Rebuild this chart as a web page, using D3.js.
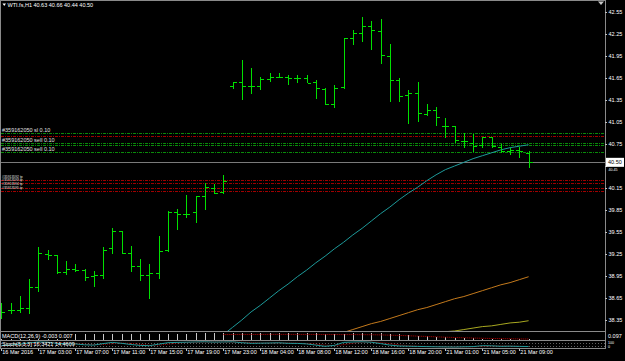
<!DOCTYPE html>
<html>
<head>
<meta charset="utf-8">
<script src="https://cdn.jsdelivr.net/npm/d3@7"></script>
<style>
  html, body { margin: 0; padding: 0; background: #000; overflow: hidden; }
  svg { display: block; }
  text { font-family: "Liberation Sans", Arial, sans-serif; font-size: 5.5px; }
</style>
</head>
<body>
<div id="chart"></div>
<script>
// WTI.fs H1 bars, index 0 = 16 Mar 2016
const opens  = [38.47,38.48,38.48,38.52,38.80,39.25,39.24,39.01,39.05,39.03,38.95,38.96,39.33,39.56,39.26,39.08,38.96,38.99,39.30,39.82,39.80,39.82,40.04,40.15,40.09,
                41.54,41.60,41.54,41.54,41.64,41.67,41.67,41.65,41.65,41.59,41.50,41.30,41.53,42.20,42.26,42.36,42.29,41.95,41.62,41.42,41.44,41.16,41.21,41.00,41.00,40.79,40.77,40.73,40.85,40.71,40.65,40.67,40.63]
const highs  = [38.58,38.58,38.68,38.91,39.34,39.31,39.24,39.15,39.12,39.04,39.02,39.34,39.61,39.56,39.36,39.18,39.11,39.50,39.84,39.86,40.05,40.04,40.22,40.20,40.33,
                41.60,41.90,41.78,41.66,41.72,41.72,41.69,41.69,41.69,41.62,41.52,41.55,42.20,42.30,42.48,42.43,42.46,42.12,41.65,41.49,41.60,41.30,41.25,41.11,41.00,40.90,40.89,40.85,40.85,40.75,40.70,40.71,40.66]
const lows   = [38.38,38.44,38.46,38.44,38.74,39.18,38.99,38.98,39.02,38.89,38.81,38.92,39.26,39.27,39.02,38.90,38.65,38.92,39.29,39.59,39.76,39.69,39.86,40.08,40.08,
                41.52,41.36,41.45,41.50,41.61,41.67,41.57,41.60,41.59,41.38,41.29,41.25,41.52,42.11,42.16,42.04,41.86,41.34,41.33,41.04,41.06,41.14,41.01,40.85,40.78,40.71,40.65,40.71,40.71,40.64,40.62,40.57,40.44]
const closes = [38.46,38.49,38.51,38.80,39.26,39.24,39.01,39.05,39.03,38.93,38.96,39.31,39.57,39.27,39.08,38.96,38.99,39.29,39.82,39.80,39.80,40.04,40.16,40.08,40.25,
                41.60,41.54,41.54,41.63,41.66,41.67,41.65,41.65,41.58,41.51,41.29,41.52,42.20,42.26,42.36,42.30,41.96,41.62,41.40,41.45,41.17,41.22,41.12,41.00,40.80,40.79,40.72,40.84,40.72,40.65,40.67,40.65,40.50]

// moving averages (start bar index, values)
const cyanStart = 24
const cyanMA = [38.15,38.25,38.35,38.46,38.55,38.65,38.75,38.84,38.94,39.03,39.13,39.22,39.32,39.41,39.51,39.60,39.70,39.80,39.89,39.99,
                40.08,40.16,40.25,40.33,40.40,40.45,40.50,40.55,40.59,40.63,40.67,40.70,40.72,40.74]
const orangeStart = 36
const orangeMA = [38.15,38.18,38.22,38.26,38.30,38.33,38.37,38.41,38.45,38.49,38.52,38.56,38.60,38.64,38.67,38.71,38.75,38.79,38.83,38.86,38.90,38.94]
const yellowStart = 47
const yellowMA = [38.17,38.19,38.20,38.22,38.24,38.26,38.27,38.29,38.31,38.32,38.34]

// MACD(12,26,9)
const macdHist = [0.004,0.004,0.005,0.005,0.006,0.006,0.007,0.008,0.07,0.072,0.072,0.075,0.078,0.078,0.076,0.074,0.072,0.074,0.078,0.08,
                  0.082,0.084,0.085,0.085,0.086,0.088,0.09,0.09,0.09,0.09,0.089,0.088,0.087,0.086,0.084,0.08,0.078,0.082,0.086,0.088,
                  0.088,0.085,0.078,0.07,0.062,0.055,0.048,0.04,0.032,0.026,0.02,0.015,0.012,0.01,0.008,0.006,0.005,0.004]
const macdSignalStart = 24
const macdSignal = [0.068,0.069,0.07,0.07,0.07,0.071,0.071,0.071,0.07,0.07,0.07,0.069,0.069,0.068,0.068,0.067,0.066,0.064,0.06,0.056,
                    0.052,0.047,0.042,0.037,0.032,0.028,0.024,0.02,0.017,0.014,0.012,0.01,0.008,0.007]

// Stoch(5,3,3)
const stochMain = [30,40,55,75,92,88,70,62,60,45,40,65,85,70,50,35,30,55,80,85,88,92,95,90,92,95,80,70,72,75,
                   78,70,68,60,40,20,35,85,92,95,88,65,40,25,22,18,15,12,10,8,12,15,30,28,20,22,18,16.34]
const stochSignal = [25,32,42,57,74,85,83,73,64,56,48,50,63,73,68,52,38,40,55,73,84,88,92,92,92,92,89,82,74,72,
                     75,74,72,66,56,40,32,47,71,91,92,83,64,43,29,22,18,15,12,10,10,12,19,24,26,23,20,14.46]

const priceTicks = [38.35,38.65,38.95,39.25,39.55,39.85,40.15,40.45,40.75,41.05,41.35,41.65,41.95,42.25,42.55]
const timeIdx = [0,4,8,12,16,20,24,28,32,36,40,44,48,52,56]
const timeLabels = ['16 Mar 2016','17 Mar 03:00','17 Mar 07:00','17 Mar 11:00','17 Mar 15:00','17 Mar 19:00','17 Mar 23:00',
                    '18 Mar 04:00','18 Mar 08:00','18 Mar 12:00','18 Mar 16:00','18 Mar 20:00','21 Mar 01:00','21 Mar 05:00','21 Mar 09:00']

// trade lines
const orderPrices = [40.90,40.86,40.76,40.74,40.64,40.26,40.22,40.15,40.11]
const orderKinds  = ['open','stop','open','open','open','stop','stop','stop','stop']
const orderLabels = ['#359162050 sl 0.10','','#359162050 sell 0.10','','#359162050 sell 0.10',
                     '#35913592 tp','#35913593 tp','#35913594 tp','#35913595 tp']

const bid = 40.50
const title = 'WTI.fs,H1  40.63 40.66 40.44 40.50'

const width = 625
const height = 361
const right = 605

const svg = d3.select('#chart').append('svg').attr('width', width).attr('height', height).attr('fill', '#fff')
svg.append('rect').attr('width', width).attr('height', height).attr('fill', '#000')

const defs = svg.append('defs')
defs.append('clipPath').attr('id', 'main').append('rect').attr('x', 1).attr('y', 1).attr('width', right - 1).attr('height', 330)
defs.append('clipPath').attr('id', 'macd').append('rect').attr('x', 1).attr('y', 332).attr('width', right - 1).attr('height', 8)
defs.append('clipPath').attr('id', 'stoch').append('rect').attr('x', 1).attr('y', 341).attr('width', right - 1).attr('height', 7)

const x = d3.scaleLinear().domain([0, 57]).range([1.3, 528.6])
const y = d3.scaleLinear().domain([38.35, 42.55]).range([320, 12])
const px = i => Math.round(x(i)) + 0.5
const py = v => Math.round(y(v)) + 0.5

const main = svg.append('g').attr('clip-path', 'url(#main)')

// order / stop lines
const kindColor = { open: '#0a8a0a', stop: '#a00000' }
main.append('g').selectAll('line').data(orderPrices).join('line')
  .attr('x1', 1).attr('x2', right)
  .attr('y1', d => py(d)).attr('y2', d => py(d))
  .attr('stroke', (d, i) => kindColor[orderKinds[i]])
  .attr('stroke-width', 1)
  .attr('stroke-dasharray', '3,1,1,1')
  .attr('shape-rendering', 'crispEdges')

// labels sit just above their line; the tp ones are stacked under the first tp line
const labelData = orderPrices.map((p, i) => ({ p, label: orderLabels[i], kind: orderKinds[i] })).filter(d => d.label)
const firstStop = labelData.find(d => d.kind === 'stop').p
let k = 0
labelData.forEach(d => { d.ly = d.kind === 'stop' ? y(firstStop) - 3.4 + 3.6 * (k++) : y(d.p) - 3 })
main.append('g').selectAll('text').data(labelData).join('text')
  .attr('x', 2).attr('y', d => d.ly)
  .attr('dy', '0.35em')
  .attr('fill', '#e0e0e0')
  .style('font-size', d => d.kind === 'stop' ? '3.4px' : '5.5px')
  .text(d => d.label)

// bid line
main.append('line').attr('x1', 1).attr('x2', right).attr('y1', py(bid)).attr('y2', py(bid))
  .attr('stroke', '#7a7a7a').attr('shape-rendering', 'crispEdges')

// moving averages
function maLine(vals, start, color) {
  main.append('path')
    .datum(vals)
    .attr('fill', 'none')
    .attr('stroke', color)
    .attr('stroke-width', 1)
    .attr('d', d3.line().x((d, i) => x(start + i)).y(d => y(d)))
}
maLine(cyanMA, cyanStart, '#1d9a9a')
maLine(orangeMA, orangeStart, '#c47a1c')
maLine(yellowMA, yellowStart, '#a8a820')

// OHLC bars
main.append('g').selectAll('path').data(opens).join('path')
  .attr('fill', 'none')
  .attr('stroke', '#00e000')
  .attr('stroke-width', 1)
  .attr('shape-rendering', 'crispEdges')
  .attr('d', (o, i) => {
    const cx = px(i)
    return `M${cx},${py(highs[i]) - 0.5}V${py(lows[i]) + 0.5}` +
      `M${cx - 3.5},${py(o)}H${cx}` +
      `M${cx},${py(closes[i])}H${cx + 3.5}`
  })

// MACD panel
const ym = d3.scaleLinear().domain([0, 0.097]).range([339.5, 332.5])
const macd = svg.append('g').attr('clip-path', 'url(#macd)')
macd.append('g').selectAll('line').data(macdHist).join('line')
  .attr('x1', (d, i) => px(i)).attr('x2', (d, i) => px(i))
  .attr('y1', ym(0)).attr('y2', d => ym(d))
  .attr('stroke', '#c8c8c8').attr('shape-rendering', 'crispEdges')
macd.append('path').datum(macdSignal)
  .attr('fill', 'none').attr('stroke', '#c00000').attr('stroke-dasharray', '1,1')
  .attr('d', d3.line().x((d, i) => x(macdSignalStart + i)).y(d => ym(d)))

// Stoch panel
const ys = d3.scaleLinear().domain([0, 100]).range([347.5, 341.5])
const stoch = svg.append('g').attr('clip-path', 'url(#stoch)')
stoch.append('g').selectAll('line').data([20, 80]).join('line')
  .attr('x1', 1).attr('x2', right).attr('y1', d => Math.round(ys(d)) + 0.5).attr('y2', d => Math.round(ys(d)) + 0.5)
  .attr('stroke', '#606060').attr('stroke-dasharray', '1,2')
stoch.append('path').datum(stochSignal)
  .attr('fill', 'none').attr('stroke', '#b00000').attr('stroke-dasharray', '1,1')
  .attr('d', d3.line().x((d, i) => x(i)).y(d => ys(d)))
stoch.append('path').datum(stochMain)
  .attr('fill', 'none').attr('stroke', '#1d9a9a')
  .attr('d', d3.line().x((d, i) => x(i)).y(d => ys(d)))

// frame
const frame = svg.append('g').attr('stroke', '#8a8a8a').attr('shape-rendering', 'crispEdges')
frame.append('line').attr('x1', 0).attr('x2', right + 0.5).attr('y1', 0.5).attr('y2', 0.5)
frame.append('line').attr('x1', 0.5).attr('x2', 0.5).attr('y1', 0).attr('y2', 348.5)
frame.append('line').attr('x1', right + 0.5).attr('x2', right + 0.5).attr('y1', 0).attr('y2', 348.5)
frame.selectAll('line.sep').data([331.5, 340.5, 348.5]).join('line').attr('class', 'sep')
  .attr('x1', 0).attr('x2', right + 0.5).attr('y1', d => d).attr('y2', d => d)

// price axis (the tick hidden behind the bid box is pushed just below it)
const axis = svg.append('g').attr('transform', `translate(${right},0)`).attr('color', '#fff')
  .call(d3.axisRight(y).tickValues(priceTicks).tickFormat(d3.format('.2f')).tickSize(2).tickPadding(1.5))
axis.select('.domain').remove()
axis.selectAll('line').attr('stroke', '#c0c0c0')
axis.selectAll('.tick').filter(d => Math.abs(y(d) - y(bid)) < 6)
  .select('text').attr('dy', '1.35em').style('font-size', '3.6px')

// bid marker
svg.append('rect').attr('x', right + 1).attr('y', y(bid) - 4.5).attr('width', 18).attr('height', 9).attr('fill', '#fff')
svg.append('text').attr('x', right + 3).attr('y', y(bid)).attr('dy', '0.35em').attr('fill', '#000').text(d3.format('.2f')(bid))

// sub-window labels
svg.append('text').attr('x', right + 3).attr('y', 336).attr('dy', '0.35em').text('0.097')
svg.append('text').attr('x', right + 3).attr('y', 342.8).attr('dy', '0.35em').style('font-size', '3.6px').text('100')
svg.append('text').attr('x', right + 3).attr('y', 346.6).attr('dy', '0.35em').style('font-size', '3.6px').text('0')
svg.append('text').attr('x', 2).attr('y', 336).attr('dy', '0.35em').text('MACD(12,26,9) -0.003 0.007')
svg.append('text').attr('x', 2).attr('y', 344.5).attr('dy', '0.35em').text('Stoch(5,3,3) 16.3421 14.4609')

// time axis
const tg = svg.append('g')
tg.selectAll('line').data(timeIdx).join('line')
  .attr('x1', d => px(d)).attr('x2', d => px(d)).attr('y1', 348.5).attr('y2', 350.5)
  .attr('stroke', '#c0c0c0').attr('shape-rendering', 'crispEdges')
tg.selectAll('text').data(timeIdx).join('text')
  .attr('x', d => x(d) + 1).attr('y', 352.5).attr('dy', '0.35em')
  .text((d, i) => timeLabels[i])

// title
svg.append('path').attr('d', 'M2.5,3.5L6,3.5L4.25,6Z').attr('fill', '#fff')
svg.append('text').attr('x', 7.5).attr('y', 5).attr('dy', '0.35em').text(title)
svg.append('path').attr('d', 'M598,1.5L604,1.5L601,5Z').attr('fill', '#c8c8c8')
</script>
</body>
</html>
